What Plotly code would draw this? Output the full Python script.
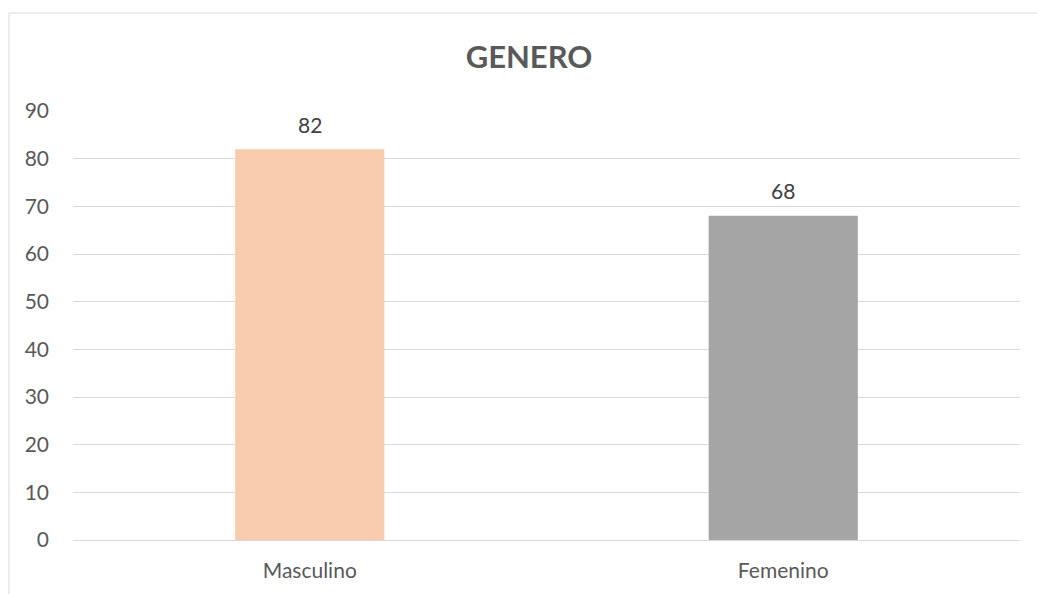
import plotly.graph_objects as go

categories = ["Masculino", "Femenino"]
values = [82, 68]
colors = ["#F8CBAD", "#A5A5A5"]
y_ticks = [0, 10, 20, 30, 40, 50, 60, 70, 80, 90]

FONT = "Lato, Carlito, Calibri, Open Sans, sans-serif"

W, H = 1037, 594

fig = go.Figure()
fig.add_trace(go.Bar(
    x=categories,
    y=values,
    marker=dict(color=colors, line=dict(width=0)),
    width=0.315,
    hoverinfo="x+y",
))

for c, v in zip(categories, values):
    fig.add_annotation(
        x=c, y=v, text=str(v), showarrow=False,
        xref="x", yref="y", yanchor="middle", yshift=25,
        font=dict(family=FONT, size=21, color="#404040"),
    )

fig.update_layout(
    width=W,
    height=H,
    margin=dict(l=73, r=17, t=111, b=54),
    paper_bgcolor="white",
    plot_bgcolor="white",
    showlegend=False,
    title=dict(
        text="<b>GENERO</b>",
        x=529 / W,
        xanchor="center",
        y=1 - 57 / H,
        yanchor="middle",
        font=dict(family=FONT, size=31, color="#595959"),
    ),
    xaxis=dict(
        showgrid=False,
        showline=False,
        zeroline=False,
        ticks="",
        tickfont=dict(family=FONT, size=21, color="#595959"),
        ticklabelstandoff=16,
    ),
    yaxis=dict(
        range=[0, 90],
        tickvals=y_ticks,
        showgrid=True,
        gridcolor="#D9D9D9",
        gridwidth=1,
        zeroline=True,
        zerolinecolor="#D9D9D9",
        zerolinewidth=1,
        showline=False,
        ticks="",
        tickfont=dict(family=FONT, size=21, color="#595959"),
        ticklabelstandoff=23,
    ),
    shapes=[dict(
        type="rect",
        xref="paper", yref="paper",
        x0=(9 - 73) / 947, x1=1.2,
        y0=-0.3, y1=(540 - 13) / 429,
        line=dict(color="#D9D9D9", width=1),
        fillcolor="rgba(0,0,0,0)",
        layer="below",
    )],
)

fig.write_html(
    "out.html",
    config={"displayModeBar": False},
    post_script="document.body.style.margin='0';document.body.style.overflow='hidden';",
)
